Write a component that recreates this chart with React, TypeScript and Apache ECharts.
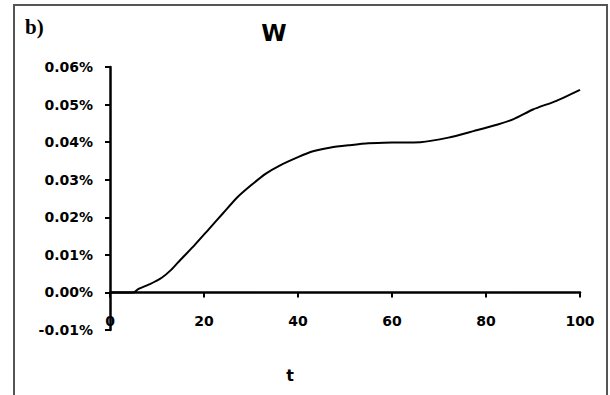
import React, { useEffect, useRef } from "react";
import * as echarts from "echarts";

const tValues = [0, 5, 6, 8.5, 11, 13, 15, 18, 21, 24, 27, 30, 33, 36, 40, 43, 47, 51, 55, 60, 66, 72, 77.5, 82.5, 86, 90, 95, 100];
const wValues = [0, 0, 0.0009, 0.0022, 0.0039, 0.006, 0.0087, 0.0126, 0.0168, 0.021, 0.0252, 0.0285, 0.0315, 0.0337, 0.036, 0.0375, 0.0386, 0.0392, 0.0397, 0.0399, 0.04, 0.0412, 0.043, 0.0447, 0.0462, 0.0487, 0.051, 0.0539];
const xTicks = { min: 0, max: 100, interval: 20 };
const yTicks = { min: -0.01, max: 0.06, interval: 0.01 };
const titleText = "W";
const panelLabel = "b)";
const xAxisName = "t";

const FONT = "DejaVu Sans";

export default function App() {
  const ref = useRef<HTMLDivElement>(null);
  useEffect(() => {
    if (!ref.current) return;
    const chart = echarts.init(ref.current, null, { renderer: "svg" });
    const data = tValues.map((t, i) => [t, wValues[i]]);
    chart.setOption({
      animation: false,
      backgroundColor: "#ffffff",
      grid: { left: 110, right: 30, top: 67, bottom: 65, containLabel: false },
      xAxis: {
        type: "value",
        min: xTicks.min,
        max: xTicks.max,
        interval: xTicks.interval,
        splitLine: { show: false },
        axisLine: { show: true, onZero: true, lineStyle: { color: "#000", width: 2.5 } },
        axisTick: { show: true, inside: false, length: 5, lineStyle: { color: "#000", width: 2 } },
        axisLabel: {
          margin: -16,
          color: "#000",
          fontFamily: FONT,
          fontWeight: "bold",
          fontSize: 14,
        },
      },
      yAxis: {
        type: "value",
        min: yTicks.min,
        max: yTicks.max,
        interval: yTicks.interval,
        splitLine: { show: false },
        axisLine: { show: true, onZero: false, lineStyle: { color: "#000", width: 2.5 } },
        axisTick: { show: true, inside: false, length: 5, lineStyle: { color: "#000", width: 2 } },
        axisLabel: {
          margin: 17,
          color: "#000",
          fontFamily: FONT,
          fontWeight: "bold",
          fontSize: 14,
          formatter: (v: number) => v.toFixed(2) + "%",
        },
      },
      series: [
        {
          type: "line",
          data,
          showSymbol: false,
          smooth: 0.2,
          lineStyle: { color: "#000", width: 2 },
        },
      ],
      graphic: [
        {
          type: "rect",
          shape: { x: 14, y: 5, width: 593, height: 400 },
          style: { fill: "none", stroke: "#555", lineWidth: 2 },
          silent: true,
        },
        {
          type: "text",
          left: 25,
          top: 16,
          style: { text: panelLabel, fontFamily: "Liberation Serif", fontWeight: "bold", fontSize: 21, fill: "#000" },
        },
        {
          type: "text",
          x: 274,
          y: 33,
          style: { text: titleText, fontFamily: FONT, fontWeight: "bold", fontSize: 23, fill: "#000", align: "center", verticalAlign: "middle" },
        },
        {
          type: "text",
          x: 290,
          y: 375,
          style: { text: xAxisName, fontFamily: FONT, fontWeight: "bold", fontSize: 16, fill: "#000", align: "center", verticalAlign: "middle" },
        },
      ],
    });
    return () => chart.dispose();
  }, []);
  return <div ref={ref} style={{ width: 610, height: 395, position: "fixed", left: 0, top: 0 }} />;
}
